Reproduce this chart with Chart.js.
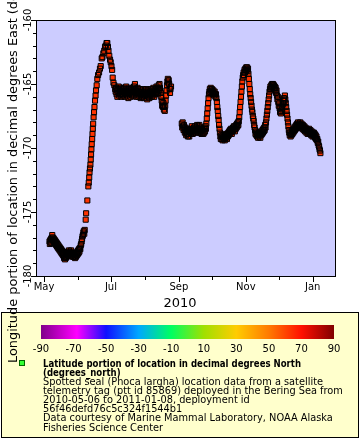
<!DOCTYPE html>
<html>
<head>
<meta charset="utf-8">
<script src="https://cdn.jsdelivr.net/npm/chart.js@4.4.0/dist/chart.umd.min.js"></script>
<style>
  html, body { margin: 0; padding: 0; background: #ffffff; }
  canvas { display: block; }
</style>
</head>
<body>
<canvas id="chart" width="360" height="440"></canvas>
<script>
// time is day of year 2010 (Jan 1 = 1), days in 2011 keep counting past 365
// May-June: trough in the western Bering Sea
const troughDays = [
  126.0, 126.3, 126.7, 127.0, 127.4, 127.8, 128.1, 128.5, 128.9, 129.3,
  129.7, 130.1, 130.5, 130.9, 131.3, 131.7, 132.1, 132.5, 132.9, 133.3,
  133.7, 134.1, 134.5, 134.9, 135.3, 135.7, 136.1, 136.5, 136.9, 137.3,
  137.7, 138.1, 138.5, 138.9, 139.3, 139.7, 140.1, 140.5, 140.9, 141.3,
  141.7, 142.1, 142.5, 142.9, 143.3, 143.7, 144.1, 144.5, 144.9, 145.3,
  145.7, 146.1, 146.5, 146.9, 147.3, 147.7, 148.1, 148.5, 148.9, 149.3,
  149.7, 150.1, 150.5, 150.9, 151.3, 151.7, 152.1, 152.5, 152.9, 153.3,
  153.7, 154.1, 154.5, 154.9, 155.3, 155.7, 156.1, 156.5, 156.9, 157.3,
  157.7, 158.1
];
const troughLons = [
  -177.3, -177.5, -177.2, -177.4, -177.1, -177.4, -177.0, -176.8, -177.2, -177.0,
  -177.3, -177.1, -177.4, -177.2, -177.5, -177.3, -177.6, -177.4, -177.7, -177.5,
  -177.8, -177.6, -177.9, -177.7, -178.0, -177.8, -178.1, -177.9, -178.2, -178.0,
  -178.3, -178.1, -178.4, -178.2, -178.6, -178.4, -178.7, -178.5, -178.6, -178.3,
  -178.5, -178.2, -178.4, -178.1, -178.3, -178.0, -178.2, -178.4, -178.1, -178.3,
  -178.0, -178.2, -178.4, -178.2, -178.5, -178.3, -178.5, -178.2, -178.4, -178.6,
  -178.3, -178.5, -178.2, -178.4, -178.1, -178.3, -178.0, -178.2, -177.9, -178.1,
  -177.8, -177.9, -177.6, -177.5, -177.3, -177.1, -176.9, -176.8, -176.6, -176.5,
  -176.7, -176.4
];
// late June: fast move east, peak in early July
const riseDays = [
  159.0, 159.4, 160.5, 161.4, 161.8, 162.2, 162.5, 162.9, 163.3, 163.6,
  163.9, 164.2, 164.5, 164.9, 165.2, 165.5, 165.8, 166.2, 166.6, 167.0,
  167.5, 168.0, 168.4, 169.0, 169.6, 170.3, 171.2, 172.0, 172.7, 173.6,
  174.3, 175.1, 175.9, 176.6, 177.3, 178.0, 178.7, 179.3, 179.8, 180.5,
  181.2, 181.8, 182.5, 183.1, 183.6, 184.3, 185.1, 185.9
];
const riseLons = [
  -175.6, -175.1, -174.1, -173.0, -172.7, -172.3, -171.9, -171.6, -171.3, -170.9,
  -170.5, -170.1, -169.7, -169.3, -168.9, -168.5, -168.1, -167.6, -167.2, -166.8,
  -166.3, -165.9, -165.5, -165.1, -164.6, -164.3, -164.1, -163.8, -163.6, -163.0,
  -162.9, -162.6, -162.4, -162.1, -162.0, -161.8, -161.8, -162.1, -162.4, -162.8,
  -163.1, -163.3, -163.6, -163.9, -164.5, -164.9, -165.1, -165.4
];
// July-August plateau
const summerDays = [
  186.3, 186.7, 187.1, 187.5, 187.9, 188.3, 188.7, 189.1, 189.5, 189.9,
  190.3, 190.7, 191.1, 191.5, 191.9, 192.3, 192.7, 193.1, 193.5, 193.9,
  194.3, 194.7, 195.1, 195.5, 195.9, 196.3, 196.7, 197.1, 197.5, 197.9,
  198.3, 198.7, 199.1, 199.5, 199.9, 200.3, 200.7, 201.1, 201.5, 201.9,
  202.3, 202.7, 203.1, 203.5, 203.9, 204.3, 204.7, 205.1, 205.5, 205.9,
  206.3, 206.7, 207.1, 207.5, 207.9, 208.3, 208.7, 209.1, 209.5, 209.9,
  210.3, 210.7, 211.1, 211.5, 211.9, 212.3, 212.7, 213.1, 213.5, 213.9,
  214.3, 214.7, 215.1, 215.5, 215.9, 216.3, 216.7, 217.1, 217.5, 217.9,
  218.3, 218.7, 219.1, 219.5, 219.9, 220.3, 220.7, 221.1, 221.5, 221.9,
  222.3, 222.7, 223.1, 223.5, 223.9, 224.3, 224.7, 225.1, 225.5, 225.9,
  226.3, 226.7, 227.1, 227.5, 227.9, 228.3, 228.7, 229.1, 229.5, 229.9,
  230.3, 230.7, 231.1, 231.5, 231.9, 232.3, 232.7, 233.1, 233.5, 233.9,
  234.3, 234.7, 235.1, 235.5, 235.9, 236.3, 236.8
];
const summerLons = [
  -165.6, -165.3, -165.8, -165.5, -166.0, -165.4, -165.7, -165.2, -165.9, -165.5,
  -165.8, -165.3, -165.6, -166.0, -165.5, -165.8, -165.4, -165.9, -165.6, -165.3,
  -165.7, -166.0, -165.5, -165.8, -165.2, -165.6, -165.9, -165.4, -165.7, -166.1,
  -165.5, -165.8, -165.3, -165.7, -166.0, -165.4, -165.8, -165.5, -165.9, -165.3,
  -165.6, -165.9, -165.2, -165.5, -165.0, -165.4, -165.7, -166.0, -165.5, -165.8,
  -165.3, -165.7, -166.0, -165.6, -165.9, -165.4, -165.8, -166.1, -165.5, -165.8,
  -166.0, -165.6, -165.9, -165.4, -165.7, -166.1, -165.6, -165.9, -165.5, -165.8,
  -165.4, -165.9, -166.2, -165.7, -166.0, -165.5, -165.8, -166.1, -165.6, -165.9,
  -165.4, -165.8, -166.0, -165.5, -165.9, -165.6, -165.3, -165.7, -166.0, -165.5,
  -165.8, -165.4, -165.7, -165.2, -165.6, -165.3, -165.8, -165.4, -165.1, -165.5,
  -165.0, -165.3, -165.5, -165.7, -166.0, -166.3, -166.7, -166.4, -166.8, -166.5,
  -167.0, -166.8, -167.1, -166.7, -166.3, -165.9, -165.5, -165.1, -164.8, -164.6,
  -164.9, -164.7, -165.0, -165.4, -165.7, -165.4, -165.2
];
// September to January
const autumnDays = [
  246.6, 247.0, 247.4, 247.8, 248.2, 248.6, 249.0, 249.4, 249.8, 250.2,
  250.6, 251.0, 251.4, 251.8, 252.2, 252.6, 253.0, 253.4, 253.8, 254.2,
  254.6, 255.0, 255.4, 255.8, 256.2, 256.6, 257.0, 257.4, 257.8, 258.2,
  258.6, 259.0, 259.4, 259.8, 260.2, 260.6, 261.0, 261.4, 261.8, 262.2,
  262.6, 263.0, 263.4, 263.8, 264.2, 264.6, 265.0, 265.4, 265.8, 266.2,
  266.6, 267.0, 267.4, 267.8, 268.2, 268.6,
  269.0, 269.4, 269.8, 270.2, 270.6, 271.0, 271.4, 271.8, 272.2, 272.6,
  273.0, 273.4, 273.8, 274.2, 274.6, 275.0, 275.4, 275.8, 276.2, 276.6,
  277.0, 277.4, 277.8, 278.2, 278.6, 279.0, 279.4, 279.8, 280.2, 280.6,
  281.0, 281.4, 281.8, 282.2,
  282.6, 283.0, 283.4, 283.8, 284.2, 284.6, 285.0, 285.4, 285.8, 286.2,
  286.6, 287.0, 287.4, 287.8, 288.2, 288.6, 289.0, 289.4, 289.8, 290.2,
  290.6, 291.0, 291.4, 291.8, 292.2, 292.6, 293.0, 293.4, 293.8, 294.2,
  294.6, 295.0, 295.4, 295.8, 296.2, 296.6, 297.0, 297.4, 297.8, 298.2,
  298.6,
  299.0, 299.4, 299.8, 300.2, 300.6, 301.0, 301.4, 301.8, 302.2, 302.6,
  303.0, 303.4, 303.8, 304.2, 304.6, 305.0, 305.4, 305.8, 306.2, 306.6,
  307.0, 307.4, 307.8, 308.2, 308.6, 309.0, 309.4, 309.8, 310.2, 310.6,
  311.0, 311.4, 311.8, 312.2, 312.6, 313.0,
  313.4, 313.8, 314.2, 314.6, 315.0, 315.4, 315.8, 316.2, 316.6, 317.0,
  317.4, 317.8, 318.2, 318.6, 319.0, 319.4, 319.8, 320.2, 320.6, 321.0,
  321.4, 321.8, 322.2, 322.6, 323.0, 323.4, 323.8, 324.2, 324.6, 325.0,
  325.4, 325.8, 326.2, 326.6, 327.0, 327.4, 327.8, 328.2, 328.6, 329.0,
  329.4, 329.8,
  330.2, 330.6, 331.0, 331.4, 331.8, 332.2, 332.6, 333.0, 333.4, 333.8,
  334.2, 334.6, 335.0, 335.4, 335.8, 336.2, 336.6, 337.0, 337.4, 337.8,
  338.2, 338.6, 339.0, 339.4, 339.8, 340.2, 340.6, 341.0, 341.4, 341.8,
  342.2, 342.6, 343.0, 343.4, 343.8, 344.2, 344.6, 345.0, 345.4, 345.8,
  346.2, 346.6, 347.0,
  347.4, 347.8, 348.2, 348.6, 349.0, 349.4, 349.8, 350.2, 350.6, 351.0,
  351.4, 351.8, 352.2, 352.6, 353.0, 353.4, 353.8, 354.2, 354.6, 355.0,
  355.4, 355.8, 356.2, 356.6, 357.0, 357.4, 357.8, 358.2, 358.6, 359.0,
  359.4, 359.8, 360.2, 360.6, 361.0, 361.4, 361.8, 362.2, 362.6, 363.0,
  363.4, 363.8, 364.2, 364.6, 365.0, 365.4, 365.8, 366.2, 366.6, 367.0,
  367.4, 367.8, 368.2, 368.6, 369.0, 369.4, 369.8, 370.2, 370.6, 371.0,
  371.4, 371.8, 372.2, 372.6, 373.0
];
const autumnLons = [
  -168.1, -168.4, -168.0, -168.3, -168.6, -168.2, -168.5, -168.8, -168.4, -168.7,
  -169.0, -168.6, -168.9, -168.5, -169.1, -168.7, -168.9, -169.1, -168.6, -168.8,
  -168.5, -168.9, -168.6, -168.3, -168.7, -168.9, -168.5, -168.8, -168.4, -168.7,
  -168.3, -168.6, -168.8, -168.4, -168.7, -168.2, -168.5, -168.8, -168.3, -168.6,
  -168.2, -168.5, -168.8, -168.4, -168.7, -168.9, -168.5, -168.8, -168.6, -168.9,
  -168.5, -168.8, -168.4, -168.7, -168.3, -168.5,
  -168.1, -167.7, -167.3, -166.9, -166.5, -166.1, -165.8, -165.6, -165.4, -165.6,
  -165.3, -165.5, -165.7, -165.4, -165.6, -165.8, -165.5, -165.7, -165.9, -165.6,
  -165.8, -166.0, -165.8, -166.1, -166.4, -166.8, -167.1, -167.5, -167.8, -168.2,
  -168.5, -168.8, -169.1, -169.3,
  -169.0, -169.3, -169.1, -169.4, -169.2, -169.0, -169.3, -169.1, -169.4, -169.2,
  -168.9, -169.2, -169.0, -169.3, -168.9, -169.1, -168.8, -169.0, -168.7, -168.9,
  -168.6, -168.8, -168.5, -168.7, -168.9, -168.5, -168.7, -168.4, -168.6, -168.3,
  -168.5, -168.7, -168.3, -168.5, -168.2, -168.4, -168.1, -168.3, -168.0, -168.2,
  -167.9,
  -167.6, -167.2, -166.8, -166.4, -166.0, -165.6, -165.2, -164.8, -164.5, -164.3,
  -164.1, -164.3, -163.9, -164.1, -163.8, -164.0, -163.7, -163.9, -163.7, -164.0,
  -163.8, -164.2, -164.6, -165.0, -165.4, -165.8, -166.1, -166.4, -166.7, -167.0,
  -167.2, -167.5, -167.7, -167.9, -168.2, -168.4,
  -168.6, -168.9, -168.7, -169.0, -168.8, -169.1, -168.9, -169.2, -169.0, -168.8,
  -169.1, -168.9, -169.2, -168.9, -169.0, -168.7, -168.9, -168.6, -168.8, -168.5,
  -168.7, -168.4, -168.6, -168.2, -168.4, -168.0, -167.7, -167.4, -167.1, -166.8,
  -166.5, -166.2, -165.9, -165.6, -165.4, -165.2, -165.4, -165.1, -165.3, -165.0,
  -165.2, -165.0,
  -165.3, -165.1, -165.4, -165.2, -165.5, -165.3, -165.7, -165.5, -165.9, -166.2,
  -166.0, -166.4, -166.7, -166.5, -166.9, -167.2, -166.9, -167.3, -167.1, -166.8,
  -167.0, -166.6, -166.3, -166.5, -166.1, -166.3, -165.9, -166.2, -166.5, -166.8,
  -167.1, -167.4, -167.7, -168.0, -168.3, -168.6, -168.8, -169.0, -168.8, -169.1,
  -168.9, -169.0, -168.7,
  -168.9, -168.6, -168.8, -168.5, -168.7, -168.4, -168.6, -168.3, -168.5, -168.2,
  -168.4, -168.1, -168.3, -168.0, -168.2, -168.4, -168.1, -168.3, -168.0, -168.2,
  -168.4, -168.1, -168.3, -168.5, -168.2, -168.4, -168.6, -168.3, -168.5, -168.7,
  -168.4, -168.6, -168.8, -168.5, -168.7, -168.9, -168.6, -168.8, -168.5, -168.7,
  -168.9, -168.6, -168.8, -169.0, -168.7, -168.9, -169.1, -168.8, -169.0, -168.8,
  -169.1, -168.9, -169.2, -169.0, -169.3, -169.1, -169.4, -169.3, -169.6, -169.5,
  -169.8, -169.9, -170.1, -170.2, -170.4
];

const monthDays = [121, 152, 182, 213, 244, 274, 305, 335, 366];
const monthLabels = ['May', '', 'Jul', '', 'Sep', '', 'Nov', '', 'Jan'];
const timeTitle = '2010';
const lonTicks = [-180, -175, -170, -165, -160];
const lonMinorTicks = [-180, -179, -178, -177, -176, -175, -174, -173, -172, -171, -170,
  -169, -168, -167, -166, -165, -164, -163, -162, -161, -160];
const lonTitle = 'Longitude portion of location in decimal degrees East (degrees_east)';
const colorbarTicks = [-90, -70, -50, -30, -10, 10, 30, 50, 70, 90];
const colorbarStops = [
  [-90, '#80008a'], [-68, '#ff00ff'], [-50, '#1010ff'], [-30, '#00a8ff'],
  [-10, '#00ff60'], [10, '#a0e000'], [30, '#ffcc00'], [50, '#ff7a00'],
  [70, '#ff1000'], [90, '#800000']
];
const legendTitle = ['Latitude portion of location in decimal degrees North', '(degrees_north)'];
const legendText = [
  'Spotted seal (Phoca largha) location data from a satellite',
  'telemetry tag (ptt id 85869) deployed in the Bering Sea from',
  '2010-05-06 to 2011-01-08, deployment id',
  '56f46defd76c5c324f1544b1',
  'Data courtesy of Marine Mammal Laboratory, NOAA Alaska',
  'Fisheries Science Center'
];

const FONT = '"DejaVu Sans", Verdana, sans-serif';

// horizontal squeeze so a line at 10px fills the given width
function squeeze(ctx, text, width) {
  return width / ctx.measureText(text).width;
}

const erddapLayer = {
  id: 'erddapLayer',
  beforeDraw(chart) {
    const { ctx, chartArea: a } = chart;
    ctx.save();
    ctx.fillStyle = '#ffffff';
    ctx.fillRect(0, 0, chart.width, chart.height);
    ctx.fillStyle = '#ccccff';
    ctx.fillRect(a.left, a.top, a.right - a.left, a.bottom - a.top);
    // legend box
    ctx.fillStyle = '#ffffcc';
    ctx.fillRect(1, 312, 358, 126);
    ctx.strokeStyle = '#000000';
    ctx.lineWidth = 1;
    ctx.strokeRect(1.5, 312.5, 357, 125);
    ctx.restore();
  },
  afterDraw(chart) {
    const { ctx, chartArea: a } = chart;
    const xs = chart.scales.x;
    const ys = chart.scales.y;
    ctx.save();
    ctx.strokeStyle = '#000000';
    ctx.fillStyle = '#000000';
    ctx.lineWidth = 1;

    // frame
    ctx.strokeRect(a.left - 0.5, a.top + 0.5, a.right - a.left + 1, a.bottom - a.top);

    // y ticks
    ctx.beginPath();
    lonMinorTicks.forEach(v => {
      const y = Math.round(ys.getPixelForValue(v)) + 0.5;
      const len = v % 5 === 0 ? 5 : 3;
      ctx.moveTo(a.left - 1 - len, y);
      ctx.lineTo(a.left - 1, y);
    });
    // x ticks
    monthDays.forEach((d, i) => {
      const x = Math.round(xs.getPixelForValue(d)) + 0.5;
      const len = monthLabels[i] ? 5 : 3;
      ctx.moveTo(x, a.bottom + 1);
      ctx.lineTo(x, a.bottom + 1 + len);
    });
    ctx.stroke();

    ctx.font = '10px ' + FONT;
    ctx.textAlign = 'center';
    ctx.textBaseline = 'alphabetic';
    monthDays.forEach((d, i) => {
      if (!monthLabels[i]) return;
      ctx.fillText(monthLabels[i], xs.getPixelForValue(d), 290);
    });
    lonTicks.forEach(v => {
      ctx.save();
      ctx.translate(31, ys.getPixelForValue(v));
      ctx.rotate(-Math.PI / 2);
      ctx.fillText(String(v), 0, 0);
      ctx.restore();
    });

    ctx.font = '13px ' + FONT;
    ctx.fillText(timeTitle, 180, 307);

    // y axis title, runs off the top like the original
    ctx.save();
    ctx.translate(17, 363);
    ctx.rotate(-Math.PI / 2);
    ctx.textAlign = 'left';
    ctx.font = '12.9px ' + FONT;
    ctx.fillText(lonTitle, 0, 0);
    ctx.restore();

    // colour bar
    const cbL = 41, cbR = 334, cbT = 325, cbB = 339;
    const lo = colorbarTicks[0], hi = colorbarTicks[colorbarTicks.length - 1];
    const grad = ctx.createLinearGradient(cbL, 0, cbR, 0);
    colorbarStops.forEach(([v, c]) => grad.addColorStop((v - lo) / (hi - lo), c));
    ctx.fillStyle = grad;
    ctx.fillRect(cbL, cbT, cbR - cbL, cbB - cbT);
    ctx.fillStyle = '#000000';
    ctx.font = '10px ' + FONT;
    colorbarTicks.forEach(v => {
      const x = cbL + (v - lo) / (hi - lo) * (cbR - cbL);
      ctx.fillText(String(v), x, 351.5);
    });

    // legend entry
    ctx.fillStyle = '#33ff33';
    ctx.fillRect(19.5, 360.5, 5, 5);
    ctx.strokeStyle = '#006600';
    ctx.strokeRect(19.5, 360.5, 5, 5);
    ctx.fillStyle = '#000000';
    ctx.textAlign = 'left';
    let y = 366.5;
    ctx.font = 'bold 10px ' + FONT;
    let sx = squeeze(ctx, legendTitle[0], 258);
    legendTitle.forEach(t => {
      ctx.save(); ctx.translate(43, y); ctx.scale(sx, 1); ctx.fillText(t, 0, 0); ctx.restore();
      y += 9.15;
    });
    ctx.font = '10px ' + FONT;
    sx = squeeze(ctx, legendText[0], 280);
    legendText.forEach(t => {
      ctx.save(); ctx.translate(43, y); ctx.scale(sx, 1); ctx.fillText(t, 0, 0); ctx.restore();
      y += 9.15;
    });
    ctx.restore();
  }
};

const pointDays = troughDays.concat(riseDays, summerDays, autumnDays);
const pointLons = troughLons.concat(riseLons, summerLons, autumnLons);
const points = pointDays.map((d, i) => ({ x: d, y: pointLons[i] }));

new Chart(document.getElementById('chart'), {
  type: 'scatter',
  data: {
    datasets: [{
      // outlines, drawn on top of all the fills
      data: points,
      order: 0,
      pointStyle: 'rect',
      pointRadius: 3.6,
      pointBorderWidth: 1,
      pointBackgroundColor: 'rgba(0,0,0,0)',
      pointBorderColor: '#000000'
    }, {
      data: points,
      order: 1,
      pointStyle: 'rect',
      pointRadius: 3.6,
      pointBorderWidth: 0,
      pointBackgroundColor: '#ff3300'
    }]
  },
  options: {
    responsive: false,
    animation: false,
    events: [],
    layout: { padding: { left: 0, top: 20, right: 25, bottom: 134 } },
    plugins: { legend: { display: false }, tooltip: { enabled: false } },
    scales: {
      x: {
        type: 'linear',
        min: 114.6,
        max: 386.3,
        grid: { display: false },
        border: { display: false },
        ticks: { display: false },
        afterFit: s => { s.height = 30; }
      },
      y: {
        type: 'linear',
        min: -180,
        max: -160,
        grid: { display: false },
        border: { display: false },
        ticks: { display: false },
        afterFit: s => { s.width = 37; }
      }
    }
  },
  plugins: [erddapLayer]
});
</script>
</body>
</html>
